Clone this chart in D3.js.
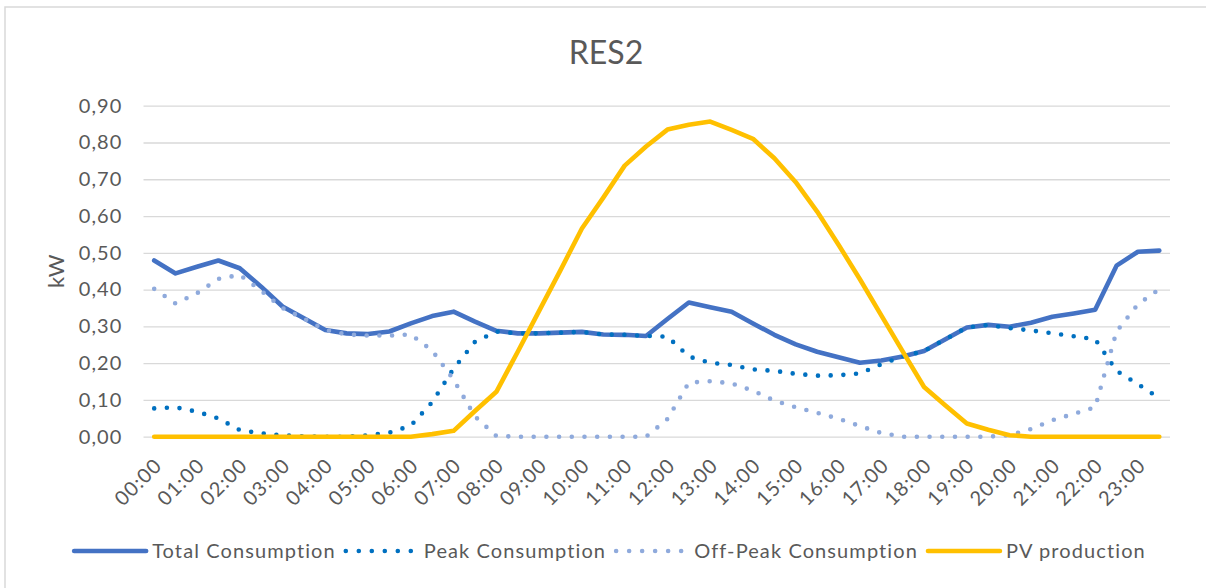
<!DOCTYPE html>
<html lang="en">
<head>
  <meta charset="UTF-8">
  <title>RES2</title>
  <script src="https://d3js.org/d3.v7.min.js"></script>
  <style>
    html, body { margin: 0; padding: 0; background: #fff; }
    svg { display: block; font-family: Lato, "Open Sans", sans-serif; }
  </style>
</head>
<body>
  <div id="chart"></div>

  <script>
    // half-hour slots, the axis only shows every other one
    const times = ['00:00','00:30','01:00','01:30','02:00','02:30','03:00','03:30',
      '04:00','04:30','05:00','05:30','06:00','06:30','07:00','07:30',
      '08:00','08:30','09:00','09:30','10:00','10:30','11:00','11:30',
      '12:00','12:30','13:00','13:30','14:00','14:30','15:00','15:30',
      '16:00','16:30','17:00','17:30','18:00','18:30','19:00','19:30',
      '20:00','20:30','21:00','21:30','22:00','22:30','23:00','23:30'];

    const totalConsumption = [0.479,0.444,0.462,0.479,0.458,0.408,0.354,0.322,
      0.290,0.281,0.279,0.286,0.308,0.328,0.340,0.313,
      0.288,0.281,0.281,0.283,0.285,0.278,0.277,0.274,
      0.320,0.365,0.352,0.340,0.308,0.277,0.251,0.231,
      0.216,0.201,0.207,0.218,0.233,0.265,0.297,0.304,
      0.299,0.310,0.326,0.335,0.345,0.465,0.503,0.506];

    const peakConsumption = [0.077,0.080,0.068,0.050,0.018,0.009,0.004,0.001,
      0.000,0.000,0.004,0.011,0.030,0.094,0.185,0.258,
      0.286,0.281,0.281,0.283,0.285,0.278,0.277,0.274,
      0.272,0.218,0.201,0.195,0.183,0.179,0.171,0.166,
      0.167,0.172,0.197,0.218,0.233,0.265,0.297,0.304,
      0.295,0.289,0.281,0.273,0.265,0.179,0.143,0.105];

    const offPeakConsumption = [0.402,0.362,0.390,0.429,0.440,0.397,0.350,0.321,
      0.290,0.278,0.275,0.275,0.278,0.234,0.155,0.055,
      0.002,0.000,0.000,0.000,0.000,0.000,0.000,0.000,
      0.048,0.147,0.151,0.145,0.125,0.098,0.080,0.065,
      0.049,0.029,0.010,0.000,0.000,0.000,0.000,0.000,
      0.004,0.021,0.045,0.062,0.080,0.286,0.360,0.401];

    const pvProduction = [0,0,0,0,0,0,0,0,
      0,0,0,0,0,0.007,0.016,0.070,
      0.122,0.231,0.342,0.453,0.566,0.650,0.737,0.789,
      0.835,0.848,0.857,0.834,0.810,0.757,0.692,0.612,
      0.522,0.428,0.330,0.232,0.135,0.085,0.036,0.019,
      0.004,0,0,0,0,0,0,0];

    const yTicks = [0,0.1,0.2,0.3,0.4,0.5,0.6,0.7,0.8,0.9];

    const series = [
      { name: 'Total Consumption', values: totalConsumption, color: '#4472C4', dotted: false },
      { name: 'Peak Consumption', values: peakConsumption, color: '#0070C0', dotted: true },
      { name: 'Off-Peak Consumption', values: offPeakConsumption, color: '#8FAADC', dotted: true },
      { name: 'PV production', values: pvProduction, color: '#FFC000', dotted: false }
    ];

    const W = 1206, H = 588;
    const plot = { left: 143.5, right: 1170, top: 105.7, bottom: 436.7 };
    const textColor = '#595959';
    const fontSize = 20, spacing = 1.1;

    const svg = d3.select('#chart').append('svg')
      .attr('width', W)
      .attr('height', H);

    // chart frame (only top and left edges fall inside the picture)
    svg.append('rect')
      .attr('x', 5).attr('y', 7)
      .attr('width', 1300).attr('height', 700)
      .attr('fill', 'none')
      .attr('stroke', '#D9D9D9')
      .attr('stroke-width', 1.5);

    const x = d3.scalePoint()
      .domain(times)
      .range([plot.left, plot.right])
      .padding(0.5);

    const y = d3.scaleLinear()
      .domain([0, 0.9])
      .range([plot.bottom, plot.top]);

    const locale = d3.formatLocale({ decimal: ',', thousands: '.', grouping: [3], currency: ['', '€'] });
    const fmt = locale.format('.2f');

    // gridlines + y labels
    const yAxis = d3.axisLeft(y)
      .tickValues(yTicks)
      .tickSize(-(plot.right - plot.left))
      .tickPadding(21)
      .tickFormat(fmt);

    const gy = svg.append('g')
      .attr('transform', `translate(${plot.left},0)`)
      .call(yAxis);
    gy.select('.domain').remove();
    gy.selectAll('.tick line').attr('stroke', '#D9D9D9').attr('stroke-width', 1.3);
    gy.selectAll('.tick text')
      .attr('fill', textColor)
      .attr('font-size', fontSize)
      .attr('letter-spacing', spacing)
      .attr('font-family', 'Lato, sans-serif');

    // x labels, one per hour
    const hourLabels = times.filter((t, i) => i % 2 === 0);
    svg.append('g')
      .selectAll('text')
      .data(hourLabels)
      .join('text')
      .attr('transform', d => `translate(${x(d) + 9},${plot.bottom + 30}) rotate(-45)`)
      .attr('text-anchor', 'end')
      .attr('fill', textColor)
      .attr('font-size', fontSize)
      .attr('letter-spacing', spacing)
      .text(d => d);

    // axis title
    svg.append('text')
      .attr('transform', `translate(64,${(plot.top + plot.bottom) / 2}) rotate(-90)`)
      .attr('text-anchor', 'middle')
      .attr('fill', textColor)
      .attr('font-size', 22)
      .text('kW');

    // chart title
    svg.append('text')
      .attr('x', 606)
      .attr('y', 64)
      .attr('text-anchor', 'middle')
      .attr('fill', textColor)
      .attr('font-size', 32)
      .text('RES2');

    const line = d3.line()
      .x((d, i) => x(times[i]))
      .y(d => y(d));

    const gLines = svg.append('g');
    series.forEach(s => {
      const p = gLines.append('path')
        .datum(s.values)
        .attr('d', line)
        .attr('fill', 'none')
        .attr('stroke', s.color)
        .attr('stroke-width', 4.6)
        .attr('stroke-linejoin', 'round')
        .attr('stroke-linecap', 'round');
      if (s.dotted) p.attr('stroke-dasharray', '0 12.7');
    });

    // legend
    const legend = svg.append('g');
    const sampleLen = 72, gapText = 6, gapItem = 10;
    let cx = 0;
    series.forEach(s => {
      const g = legend.append('g');
      g.append('line')
        .attr('x1', 0).attr('x2', sampleLen)
        .attr('y1', 0).attr('y2', 0)
        .attr('stroke', s.color)
        .attr('stroke-width', 4.6)
        .attr('stroke-linecap', 'round')
        .attr('stroke-dasharray', s.dotted ? '0 13' : null);
      const t = g.append('text')
        .attr('x', sampleLen + gapText)
        .attr('y', 7)
        .attr('fill', textColor)
        .attr('font-size', fontSize)
        .attr('letter-spacing', spacing)
        .text(s.name);
      const w = sampleLen + gapText + t.node().getComputedTextLength();
      g.attr('transform', `translate(${cx},0)`);
      cx += w + gapItem;
    });
    const legendW = cx - gapItem;
    legend.attr('transform', `translate(${610 - legendW / 2},551)`);
  </script>
</body>
</html>
